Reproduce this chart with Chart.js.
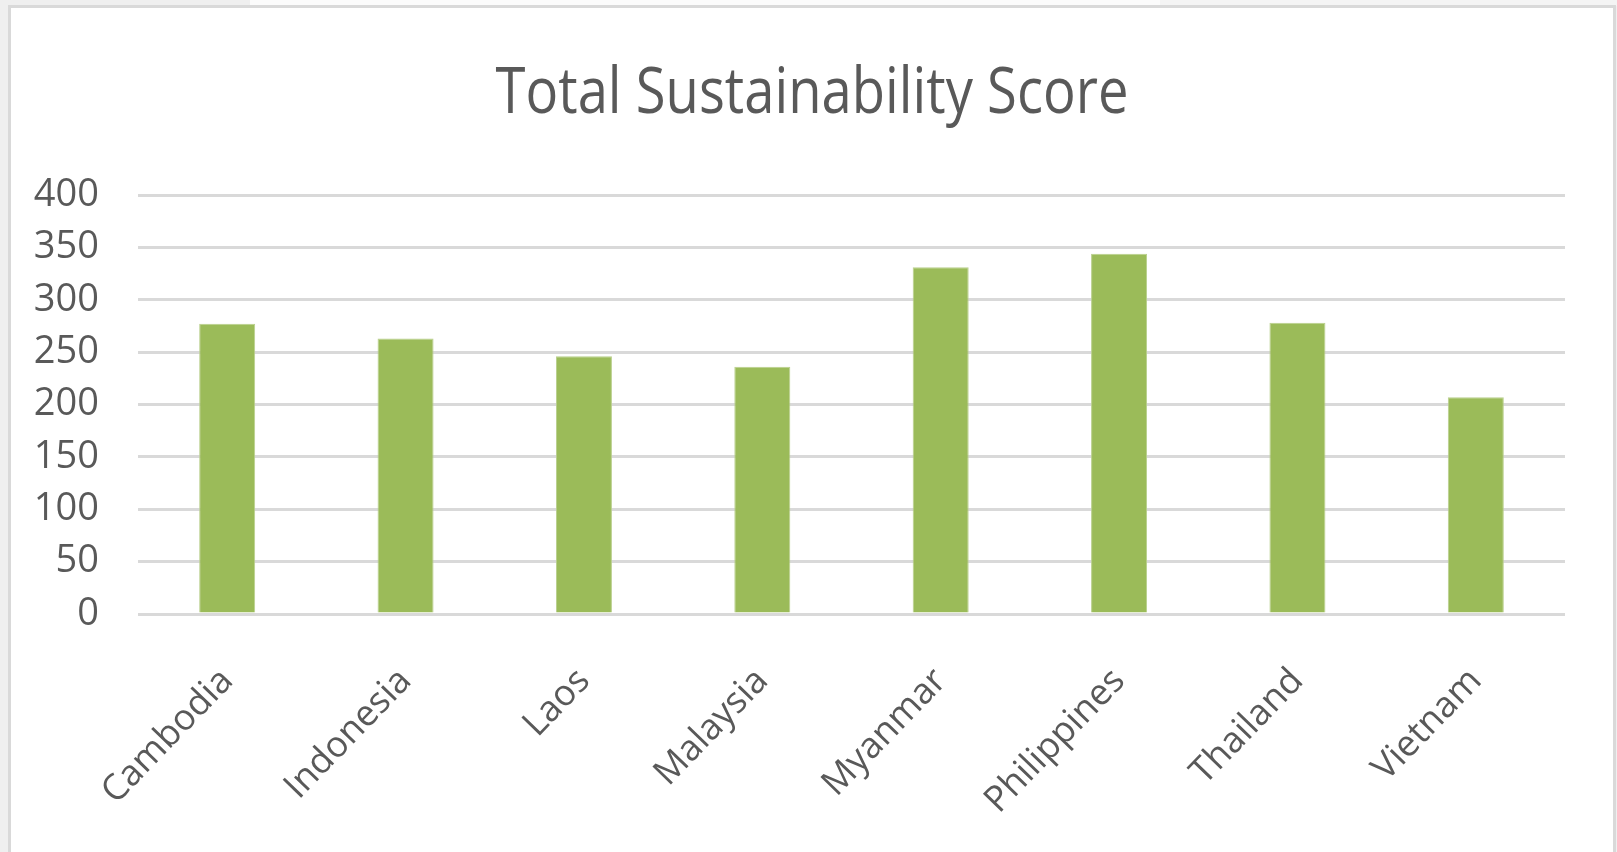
<!DOCTYPE html>
<html>
<head>
<meta charset="utf-8">
<title>Total Sustainability Score</title>
<script src="https://cdn.jsdelivr.net/npm/chart.js@4/dist/chart.umd.min.js"></script>
<style>
    html, body { margin: 0; padding: 0; }
    body { width: 1617px; height: 852px; overflow: hidden; background: #efefef; position: relative; }
    /* strip above the chart frame */
    #topWhite { position: absolute; left: 250px; top: 0; width: 910px; height: 6px; background: #fbfbfb; }
    #topRight { position: absolute; left: 1160px; top: 0; width: 457px; height: 6px; background: #f4f4f4; }
    #frame { position: absolute; left: 8px; top: 5px; width: 1602px; height: 900px;
             border: 3px solid #d9d9d9; border-bottom: none; background: #ffffff; }
    #barChart { display: block; }
</style>
</head>
<body>
<div id="topWhite"></div>
<div id="topRight"></div>
<div id="frame">
    <canvas id="barChart" width="1602" height="843"></canvas>
</div>
<script>
// Chart data
var chartTitle = "Total Sustainability Score";
var countries = ["Cambodia", "Indonesia", "Laos", "Malaysia", "Myanmar", "Philippines", "Thailand", "Vietnam"];
var scores = [277, 263, 246, 236, 331, 344, 278, 207];
var yTicks = [0, 50, 100, 150, 200, 250, 300, 350, 400];

var textColor = "#595959";

// Title is drawn by hand so it can be squeezed like the narrow font in the original
var squeezedTitle = {
    id: "squeezedTitle",
    afterDraw: function(chart){
        var ctx = chart.ctx;
        ctx.save();
        ctx.font = "64px 'Open Sans'";
        ctx.fillStyle = textColor;
        ctx.textAlign = "center";
        ctx.textBaseline = "alphabetic";
        ctx.translate(chart.width / 2, 105);
        ctx.scale(0.85, 1);
        ctx.fillText(chartTitle, 0, 0);
        ctx.restore();
    }
};

function initializeBarChart(){
    const ctx = document.getElementById("barChart").getContext("2d");

    const myChart = new Chart(ctx, {
        type: "bar",
        data: {
            labels: countries,
            datasets: [{
                label: chartTitle,
                data: scores,
                backgroundColor: "#9bbb59",
                borderColor: "#b9cf8c",
                borderWidth: 1,
                categoryPercentage: 1.0,
                barPercentage: 0.314
            }]
        },
        options: {
            responsive: false,
            animation: false,
            layout: {
                padding: { left: 0, right: 48, top: 187, bottom: 0 }
            },
            plugins: {
                legend: { display: false },
                title: { display: false },
                tooltip: { enabled: false }
            },
            scales: {
                x: {
                    grid: { display: false },
                    border: { display: false },
                    ticks: {
                        color: textColor,
                        font: { family: "'Open Sans'", size: 36 },
                        minRotation: 46,
                        maxRotation: 46,
                        padding: 38
                    },
                    afterFit: function(scale){ scale.height = 237; }
                },
                y: {
                    min: 0,
                    max: 400,
                    border: { display: false },
                    grid: { color: "#d9d9d9", lineWidth: 3, drawTicks: false },
                    afterBuildTicks: function(scale){
                        scale.ticks = yTicks.map(function(v){ return { value: v }; });
                    },
                    ticks: {
                        color: textColor,
                        font: { family: "'Open Sans'", size: 38 },
                        padding: 39
                    },
                    afterFit: function(scale){ scale.width = 127; }
                }
            }
        },
        plugins: [squeezedTitle]
    });
}

// Initialize the chart when the DOM is fully loaded
document.addEventListener("DOMContentLoaded", initializeBarChart);
</script>
</body>
</html>
